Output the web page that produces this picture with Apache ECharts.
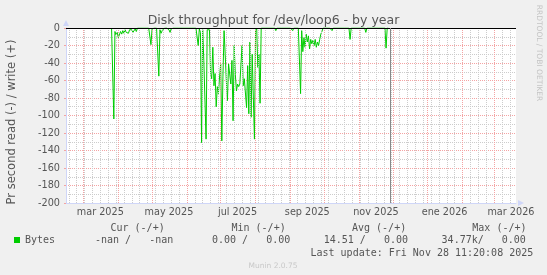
<!DOCTYPE html>
<html><head><meta charset="utf-8">
<script src="https://cdn.jsdelivr.net/npm/echarts@6/dist/echarts.min.js"></script>
<style>html,body{margin:0;padding:0;background:#F0F0F0}#c{width:547px;height:275px}</style>
</head><body><div id="c"></div>
<script>
const DAY = 86400000;
// time window of the graph (400 days)
const axisStart = Date.UTC(2025, 1, 13, 12);
const axisEnd = axisStart + 400 * DAY;
// daily read values (bytes/s, negative = read), first value on 2025-03-26
const dataStart = Date.UTC(2025, 2, 26);
const readValues = [
  0, 0, -104, -4, -8, -5, -11, -9, -4, -7, -3, -6, -2, -5, -3, -6, -2, -4, -2, -5, -3, -1, -4, 0,
  0, 0, 0, 0, 0, 0, 0, 0, 0, 0,
  -2, -19, -1, 0, 0, 0, 0, 0, -55, -2, -6, -3, -1, 0, 0, 0, 0, -2, -5, -1,
  0, 0, 0, 0, 0, 0, 0, 0, 0, 0, 0, 0, 0, 0, 0, 0, 0, 0, 0, 0, 0,
  0, -2, -20, -1, -5, -131, -2, -37, -36, -127, -2, -1, -2, -52, -58, -22, -66, -52, -90, -67, -75, -56, -41, -129, -55, -3,
  -30, -60, -83, -41, -41, -64, -37, -106, -20, -53, -72, -64, -67, -64, -66, -20, -66, -58, -56, -91, -43, -98, -16, -102, -30, -29, -127, -3, 0, -45, -30, -86, 0,
  0, 0, 0, 0, 0, 0, 0, 0, 0, 0, 0, 0,
  -3,
  0, 0, 0, 0, 0, 0, 0, 0, 0, 0, 0, 0, 0, 0,
  -3,
  0, 0, 0, 0, 0, 0,
  -75, -3, -27, -11, -22, -7, -16, -9, -24, -13, -18, -14, -20, -13, -22, -16, -20, -13, -7, -4, 0,
  0, 0, 0, 0, 0, 0, 0,
  -3,
  0, 0, 0, 0, 0, 0, 0, 0, 0, 0, 0, 0, 0, 0, 0,
  -13,
  0, 0, 0, 0, 0, 0, 0, 0, 0, 0, 0, 0, 0,
  -5,
  0, 0, 0, 0, 0, 0, 0, 0, 0, 0, 0, 0, 0, 0, 0, 0, 0,
  -23,
  0, 0, null
];
const lastUpdate = Date.UTC(2025, 10, 28, 11, 20, 8);
// x tick labels (placed mid-month)
const tickMonths = [[2025, 2], [2025, 4], [2025, 6], [2025, 8], [2025, 10], [2026, 0], [2026, 2]];
const tickLabels = ['mar 2025', 'may 2025', 'jul 2025', 'sep 2025', 'nov 2025', 'ene 2026', 'mar 2026'];
// y ticks
const yMin = -200, yMax = 0, yStep = 20;
// legend texts
const legendName = 'Bytes';
const statHeaders = ['Cur (-/+)', 'Min (-/+)', 'Avg (-/+)', 'Max (-/+)'];
const statRows = ['-nan /   -nan', '0.00 /   0.00', '14.51 /   0.00', '34.77k/   0.00'];
const updateText = 'Last update: Fri Nov 28 11:20:08 2025';
const titleText = 'Disk throughput for /dev/loop6 - by year';
const yName = 'Pr second read (-) / write (+)';
const sideText = 'RRDTOOL / TOBI OETIKER';
const footerText = 'Munin 2.0.75';

const seriesData = readValues.map((v, j) => [dataStart + j * DAY, v]);
const tickPos = tickMonths.map(([y, m]) => Date.UTC(y, m, 16));

const monthLines = [];
for (let k = 0; k < 14; k++) {
  const t = Date.UTC(2025, 2 + k, 1);
  if (t > axisStart && t < axisEnd) monthLines.push(t);
}
const weekLines = [];
for (let t = Date.UTC(2025, 1, 16); t < axisEnd; t += 7 * DAY) {
  if (monthLines.indexOf(t) < 0) weekLines.push(t);
}

const SANS = '"DejaVu Sans", sans-serif';
const MONO = '"DejaVu Sans Mono", monospace';
const FONTC = '#555';
const AXISC = '#CFD6F8';

function txt(text, x, y, font, fill, align, rot) {
  return {
    type: 'text', x: x, y: y, rotation: rot || 0, silent: true, z: 100,
    style: { text: text, font: font, fill: fill, align: align || 'left', textAlign: align || 'left',
             verticalAlign: 'middle', textVerticalAlign: 'middle' }
  };
}

const graphics = [
  txt(yName, 12, 122, '11.5px ' + SANS, FONTC, 'center', Math.PI / 2),
  txt(sideText, 538.5, 53, '7.5px ' + SANS, '#c4c4c4', 'center', -Math.PI / 2),
  txt(statHeaders[0], 110.5, 228.5, '10px ' + MONO, FONTC),
  txt(statHeaders[1], 231.5, 228.5, '10px ' + MONO, FONTC),
  txt(statHeaders[2], 352, 228.5, '10px ' + MONO, FONTC),
  txt(statHeaders[3], 472.3, 228.5, '10px ' + MONO, FONTC),
  txt(statRows[0], 95, 240.7, '10px ' + MONO, FONTC),
  txt(statRows[1], 212, 240.7, '10px ' + MONO, FONTC),
  txt(statRows[2], 323.7, 240.7, '10px ' + MONO, FONTC),
  txt(statRows[3], 441.6, 240.7, '10px ' + MONO, FONTC),
  txt(updateText, 310.5, 253, '10px ' + MONO, FONTC),
  txt(footerText, 273, 266, '7.5px ' + SANS, '#c8c8c8', 'center')
];

const chart = echarts.init(document.getElementById('c'), null, { renderer: 'canvas' });
chart.setOption({
  animation: false,
  backgroundColor: '#F0F0F0',
  title: {
    text: titleText, left: 'center', top: 9,
    textStyle: { fontFamily: SANS, fontSize: 12.5, fontWeight: 'normal', color: FONTC }
  },
  legend: {
    data: [legendName], left: 14, top: 235, padding: 0, icon: 'rect', itemWidth: 6, itemHeight: 6,
    selectedMode: false, itemStyle: { borderWidth: 0 },
    textStyle: { fontFamily: MONO, fontSize: 10, color: FONTC }
  },
  grid: { left: 66, right: 31, top: 28, bottom: 72, show: true, backgroundColor: '#fff', borderWidth: 0, containLabel: false },
  xAxis: {
    type: 'value', min: axisStart, max: axisEnd,
    axisLine: { show: true, onZero: false, lineStyle: { color: AXISC, width: 1 }, symbol: ['none', 'triangle'], symbolSize: [6, 6], symbolOffset: [0, 5] },
    axisTick: { show: false },
    splitLine: { show: false },
    axisLabel: {
      customValues: tickPos, margin: 4, color: FONTC, fontFamily: SANS, fontSize: 9.7,
      formatter: function (v) { const i = tickPos.indexOf(v); return i >= 0 ? tickLabels[i] : ''; }
    }
  },
  yAxis: {
    type: 'value', min: yMin, max: yMax, interval: yStep,
    axisLine: { show: true, onZero: false, lineStyle: { color: AXISC, width: 1 }, symbol: ['none', 'triangle'], symbolSize: [6, 6], symbolOffset: [0, 5] },
    axisTick: { show: true, length: 2, lineStyle: { color: '#f4a3a3' } },
    axisLabel: { margin: 6, color: FONTC, fontFamily: SANS, fontSize: 9.7 },
    splitLine: { show: true, lineStyle: { color: '#f4a3a3', width: 1, type: [1, 1] } },
    minorTick: { show: false, splitNumber: 2 },
    minorSplitLine: { show: true, lineStyle: { color: '#cccccc', width: 1, type: [1, 1] } }
  },
  series: [
    {
      type: 'line', data: [], z: 1, silent: true,
      markLine: {
        silent: true, symbol: ['none', 'none'], animation: false, label: { show: false },
        emphasis: { disabled: true },
        lineStyle: { color: '#cccccc', width: 1, type: [1, 1] },
        data: weekLines.map(t => ({ xAxis: t })).concat(
          monthLines.map(t => ({ xAxis: t, lineStyle: { color: '#f4a3a3', width: 1, type: [1, 1] } })))
      }
    },
    {
      name: legendName, type: 'line', data: seriesData, z: 3, showSymbol: false, connectNulls: false,
      lineStyle: { color: '#00CC00', width: 1 }, itemStyle: { color: '#00CC00' }, silent: true
    },
    {
      type: 'line', data: [], z: 4, silent: true,
      markLine: {
        silent: true, symbol: ['none', 'none'], animation: false, label: { show: false },
        emphasis: { disabled: true },
        data: [
          { yAxis: 0, lineStyle: { color: '#000', width: 1, type: 'solid' } },
          { xAxis: lastUpdate, lineStyle: { color: '#888', width: 1, type: 'solid' } }
        ]
      }
    }
  ],
  graphic: graphics
});
</script>
</body></html>
